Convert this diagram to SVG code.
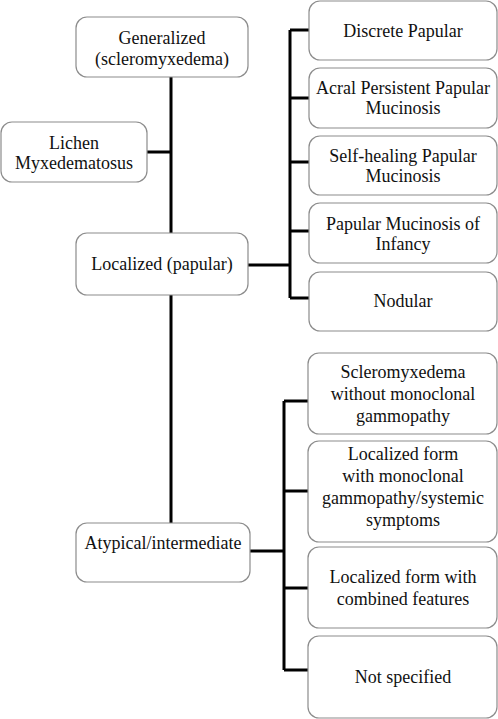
<svg xmlns="http://www.w3.org/2000/svg" width="498" height="719" viewBox="0 0 498 719">
<style>
.box{fill:#fff;stroke:#8c8c8c;stroke-width:1.2}
.t{font-family:"Liberation Serif","DejaVu Serif",serif;font-size:18px;fill:#111;text-anchor:middle}
.c{stroke:#000;stroke-width:3;fill:none}
</style>
<rect width="498" height="719" fill="#fff"/>
<g id="connectors">
<path class="c" d="M171 77V523M147 152H171M248 265H290M290 30V298M290 30H309M290 98H309M290 162H309M290 231H309M290 298H309M250 551H284M284 401V670M284 401H308M284 491H308M284 588H308M284 670H308"/>
</g>
<g id="generalized"><rect class="box" x="76" y="17" width="172" height="60" rx="11"/><text class="t" x="162" y="44">Generalized</text><text class="t" x="162" y="65">(scleromyxedema)</text></g>
<g id="lichen"><rect class="box" x="1" y="122" width="146" height="60" rx="11"/><text class="t" x="74" y="149">Lichen</text><text class="t" x="74" y="169">Myxedematosus</text></g>
<g id="localized"><rect class="box" x="76" y="233" width="172" height="62" rx="11"/><text class="t" x="162" y="270">Localized (papular)</text></g>
<g id="atypical"><rect class="box" x="76" y="523" width="174" height="59" rx="11"/><text class="t" x="163" y="549">Atypical/intermediate</text></g>
<g id="discrete"><rect class="box" x="309" y="1" width="188" height="59" rx="11"/><text class="t" x="403" y="37">Discrete Papular</text></g>
<g id="acral"><rect class="box" x="309" y="68" width="188" height="60" rx="11"/><text class="t" x="403" y="94">Acral Persistent Papular</text><text class="t" x="403" y="114">Mucinosis</text></g>
<g id="selfhealing"><rect class="box" x="309" y="136" width="188" height="59" rx="11"/><text class="t" x="403" y="162">Self-healing Papular</text><text class="t" x="403" y="182">Mucinosis</text></g>
<g id="infancy"><rect class="box" x="309" y="203" width="188" height="60" rx="11"/><text class="t" x="403" y="230">Papular Mucinosis of</text><text class="t" x="403" y="250">Infancy</text></g>
<g id="nodular"><rect class="box" x="309" y="272" width="188" height="59" rx="11"/><text class="t" x="403" y="307">Nodular</text></g>
<g id="sclero"><rect class="box" x="308" y="353" width="189" height="81" rx="11"/><text class="t" x="403" y="378">Scleromyxedema</text><text class="t" x="403" y="400">without monoclonal</text><text class="t" x="403" y="422">gammopathy</text></g>
<g id="locmono"><rect class="box" x="308" y="441" width="189" height="101" rx="11"/><text class="t" x="403" y="460">Localized form</text><text class="t" x="403" y="482">with monoclonal</text><text class="t" x="403" y="504">gammopathy/systemic</text><text class="t" x="403" y="526">symptoms</text></g>
<g id="loccomb"><rect class="box" x="308" y="547" width="189" height="81" rx="11"/><text class="t" x="403" y="583">Localized form with</text><text class="t" x="403" y="605">combined features</text></g>
<g id="notspec"><rect class="box" x="308" y="636" width="189" height="82" rx="11"/><text class="t" x="403" y="683">Not specified</text></g>
</svg>
